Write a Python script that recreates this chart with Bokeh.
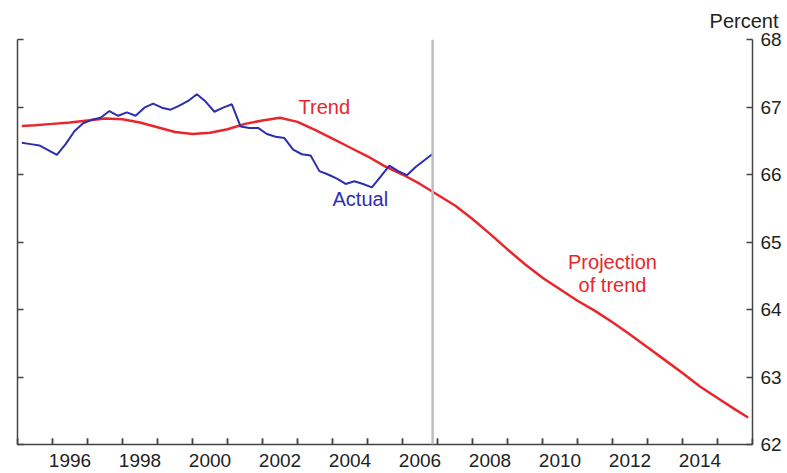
from bokeh.plotting import figure
from bokeh.models import (Range1d, LinearAxis, FixedTicker, CustomJSTickFormatter,
                          Span, Label)
from bokeh.embed import file_html
from bokeh.resources import INLINE

# ---- data ----
actual_years = [1995.125 + 0.25 * i for i in range(48)]
actual_values = [66.47, 66.45, 66.43, 66.36, 66.29, 66.45, 66.64, 66.76,
                 66.81, 66.84, 66.94, 66.87, 66.92, 66.87, 66.99, 67.05,
                 66.99, 66.96, 67.02, 67.09, 67.19, 67.08, 66.93, 66.99,
                 67.04, 66.71, 66.69, 66.69, 66.60, 66.56, 66.54, 66.37,
                 66.30, 66.28, 66.05, 66.00, 65.94, 65.86, 65.90, 65.86,
                 65.81, 65.97, 66.13, 66.05, 65.99, 66.11, 66.21, 66.31]

trend_years = [1995.125, 1995.5, 1996.0, 1996.5, 1997.0, 1997.5, 1998.0, 1998.5,
               1999.0, 1999.5, 2000.0, 2000.5, 2001.0, 2001.5, 2002.0, 2002.5,
               2003.0, 2003.5, 2004.0, 2004.5, 2005.0, 2005.5, 2006.0, 2006.5,
               2007.0, 2007.5, 2008.0, 2008.5, 2009.0, 2009.5, 2010.0, 2010.5,
               2011.0, 2011.5, 2012.0, 2012.5, 2013.0, 2013.5, 2014.0, 2014.5,
               2015.0, 2015.5, 2015.875]
trend_values = [66.72, 66.73, 66.75, 66.77, 66.80, 66.83, 66.82, 66.77,
                66.70, 66.63, 66.60, 66.62, 66.67, 66.75, 66.80, 66.84,
                66.78, 66.66, 66.53, 66.40, 66.27, 66.12, 66.00, 65.86,
                65.70, 65.54, 65.34, 65.12, 64.89, 64.67, 64.47, 64.30,
                64.13, 63.98, 63.81, 63.63, 63.44, 63.25, 63.06, 62.86,
                62.69, 62.52, 62.40]

year_boundaries = list(range(1995, 2017))
label_years = [1996, 1998, 2000, 2002, 2004, 2006, 2008, 2010, 2012, 2014]
y_ticks = [62, 63, 64, 65, 66, 67, 68]
history_end = 2006.86

RED = "#e8262b"
BLUE = "#2e2eb0"
AXIS = "#444444"
TXT = "#222222"
FONT = "Liberation Sans"

Y0, Y1 = 62, 68
FRAME_H = 405
TICK_LEN = 6 * (Y1 - Y0) / FRAME_H  # 6 px expressed in data units

p = figure(width=787, height=473, output_backend="svg", toolbar_location=None,
           x_range=Range1d(1995, 2016), y_range=Range1d(Y0, Y1),
           y_axis_location="right", min_border_left=17, min_border_top=39,
           min_border_right=35, min_border_bottom=29)
p.outline_line_color = None
p.grid.visible = False
p.background_fill_color = "white"
p.border_fill_color = "white"

p.title.text = "Percent"
p.title.align = "right"
p.title.offset = -26
p.title.vertical_align = "top"
p.title.text_font = FONT
p.title.text_font_size = "20px"
p.title.text_font_style = "normal"
p.title.text_color = TXT
p.title.standoff = 12

# x axis (closest to frame): year-boundary tick marks pointing inwards
xa = p.xaxis[0]
xa.ticker = FixedTicker(ticks=year_boundaries)
xa.major_label_overrides = {y: "" for y in year_boundaries}
xa.major_label_text_font_size = "0px"
xa.major_label_standoff = 0
xa.major_tick_in = 6
xa.major_tick_out = 0
xa.minor_tick_in = 0
xa.minor_tick_out = 0
xa.major_tick_line_color = AXIS
xa.major_tick_line_width = 1.5
xa.axis_line_color = AXIS
xa.axis_line_width = 1.5

# year tick marks also drawn as short segments from the axis line
p.segment(x0=year_boundaries, y0=[Y0] * len(year_boundaries),
          x1=year_boundaries, y1=[Y0 + TICK_LEN] * len(year_boundaries),
          line_color=AXIS, line_width=1.5)

# second x axis: year labels centred between the tick marks
xl = LinearAxis(ticker=FixedTicker(ticks=[y + 0.5 for y in label_years]),
                formatter=CustomJSTickFormatter(code="return String(Math.floor(tick))"))
xl.axis_line_color = None
xl.major_tick_line_color = None
xl.minor_tick_line_color = None
xl.major_tick_in = 0
xl.major_tick_out = 0
xl.major_label_text_font = FONT
xl.major_label_text_font_size = "19px"
xl.major_label_text_color = TXT
xl.major_label_standoff = 9
p.add_layout(xl, "below")

# right y axis with labels
ya = p.yaxis[0]
ya.ticker = FixedTicker(ticks=y_ticks)
ya.major_tick_in = 6
ya.major_tick_out = 0
ya.minor_tick_in = 0
ya.minor_tick_out = 0
ya.major_tick_line_color = AXIS
ya.major_tick_line_width = 1.5
ya.axis_line_color = AXIS
ya.axis_line_width = 1.5
ya.major_label_text_font = FONT
ya.major_label_text_font_size = "19px"
ya.major_label_text_color = TXT
ya.major_label_standoff = 8

# left y axis, ticks only
la = LinearAxis(ticker=FixedTicker(ticks=y_ticks))
la.major_label_overrides = {t: "" for t in y_ticks}
la.major_label_text_font_size = "0px"
la.major_label_standoff = 0
la.major_tick_in = 6
la.major_tick_out = 0
la.minor_tick_in = 0
la.minor_tick_out = 0
la.major_tick_line_color = AXIS
la.major_tick_line_width = 1.5
la.axis_line_color = AXIS
la.axis_line_width = 1.5
p.add_layout(la, "left")

p.add_layout(Span(location=history_end, dimension="height",
                  line_color="#bdbdbd", line_width=2.5))

p.line(trend_years, trend_values, line_color=RED, line_width=2.5)
p.line(actual_years, actual_values, line_color=BLUE, line_width=2)

def add_text(x, y, txt, color, align="left", size="20px"):
    p.add_layout(Label(x=x, y=y, text=txt, text_color=color, text_font=FONT,
                       text_font_size=size, text_align=align,
                       text_baseline="middle"))

add_text(2003.03, 67.0, "Trend", RED)
add_text(2004.0, 65.63, "Actual", BLUE)
add_text(2012.0, 64.70, "Projection", RED, align="center")
add_text(2012.0, 64.37, "of trend", RED, align="center")

open("out.html", "w").write(file_html(p, INLINE))
